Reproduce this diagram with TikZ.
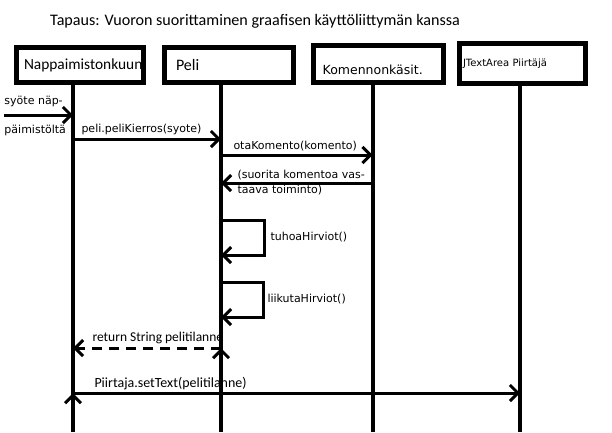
\documentclass[tikz,border=0pt]{standalone}
\usepackage{fontspec}
\setmainfont{Carlito}
\newfontfamily\tahoma{DejaVu Sans}
\usetikzlibrary{shapes,arrows,arrows.meta,fit,positioning}
\def\Otsikko{Tapaus: Vuoron suorittaminen graafisen käyttöliittymän kanssa}

\begin{document}
\begin{tikzpicture}[x=1pt,y=-1pt,% List of styles applied to all, to override specify on a case-by-case
      every node/.style={
        align=left,     % use this so that the "\\" for line break works
        inner sep=0pt   % text placed exactly where it is asked
      },
      olio/.style={rectangle,line width=5pt,draw=black,fill=white,font=\fontsize{16}{19}\selectfont},
      elama/.style={draw,line width=4pt},
      viesti/.style={draw,line width=3pt,-{Straight Barb[length=8pt,width=16pt]}},
      paluu/.style={viesti,dash pattern=on 10pt off 7pt},
      teksti/.style={font=\tahoma\fontsize{11}{15}\selectfont,anchor=west},
      calteksti/.style={font=\fontsize{14}{17}\selectfont,anchor=west}
    ]
    \useasboundingbox[fill=white] (0,0) rectangle (612,432);
    \node[font=\fontsize{16.1}{19}\selectfont,anchor=west](T) at (50,21) {\Otsikko};

    % the four objects
    \node[olio,minimum width=127pt,minimum height=35pt,inner xsep=7.5pt,text width=112pt,
      font=\fontsize{15.4}{18}\selectfont](N) at (80,65) {Nappaimistonkuun};
    \node[olio,minimum width=129pt,minimum height=35pt,inner xsep=11.5pt,text width=106pt]
      (P) at (229,65) {Peli};
    \node[olio,minimum width=130pt,minimum height=37pt,inner xsep=9.2pt,text width=111.6pt,
      font=\tahoma\fontsize{12.5}{15}\selectfont](K) at (378.5,64) {\raisebox{-6pt}[\height][\depth]{Komennonkäsit.}};
    \node[olio,minimum width=126pt,minimum height=40pt,inner xsep=3.5pt,text width=119pt,
      font=\tahoma\fontsize{10}{12}\selectfont](J) at (522.5,63.5) {JTextArea Piirtäjä};

    % message levels
    \coordinate (in) at (4,115);
    \coordinate (m1) at (0,139);
    \coordinate (m2) at (0,155);
    \coordinate (m3) at (0,183);
    \coordinate (s1) at (0,220);
    \coordinate (s1b) at (0,255);
    \coordinate (s2) at (0,282);
    \coordinate (s2b) at (0,317);
    \coordinate (m4) at (0,348);
    \coordinate (m5) at (0,393);

    % lifelines
    \coordinate (Nb) at (73,432);
    \coordinate (Pb) at (221,432);
    \coordinate (Kb) at (372.5,432);
    \coordinate (Jb) at (520,432);

    \path[paluu]
    (Pb |- m4) edge node[calteksti,pos=1,xshift=18pt,yshift=10.5pt,font=\fontsize{13.5}{16}\selectfont] {return String pelitilanne} (Nb |- m4)
    ;
    \path[elama]
    (N.south -| Nb) edge (Nb)
    (P.south -| Pb) edge (Pb)
    (K.south -| Kb) edge (Kb)
    (J.south -| Jb) edge (Jb)
    ;

    \path[viesti]
    (in) edge node[teksti,pos=0,xshift=-1pt,yshift=14pt] {syöte näp-}
              node[teksti,pos=0,xshift=-1pt,yshift=-15pt] {päimistöltä} (Nb |- in)
    (Nb |- m1) edge node[teksti,pos=0,xshift=7pt,yshift=10pt] {peli.peliKierros(syote)} (Pb |- m1)
    (Pb |- m2) edge node[teksti,pos=0,xshift=11pt,yshift=9pt] {otaKomento(komento)} (Kb |- m2)
    (Kb |- m3) edge node[teksti,pos=1,xshift=15pt,yshift=0.5pt] {(suorita komentoa vas-\\taava toiminto)} (Pb |- m3)
    (Nb |- m5) edge node[calteksti,pos=0,xshift=20pt,yshift=9pt] {Piirtaja.setText(pelitilanne)} (Jb |- m5)
    ;

    % calls to itself
    \draw[viesti] (Pb |- s1) -- ++(43,0) -- ++(0,35)
      node[teksti,midway,right=5pt] {tuhoaHirviot()} -- (Pb |- s1b);
    \draw[viesti] (Pb |- s2) -- ++(42,0) -- ++(0,35)
      node[teksti,midway,right=3pt] {liikutaHirviot()} -- (Pb |- s2b);
  \end{tikzpicture}
\end{document}
